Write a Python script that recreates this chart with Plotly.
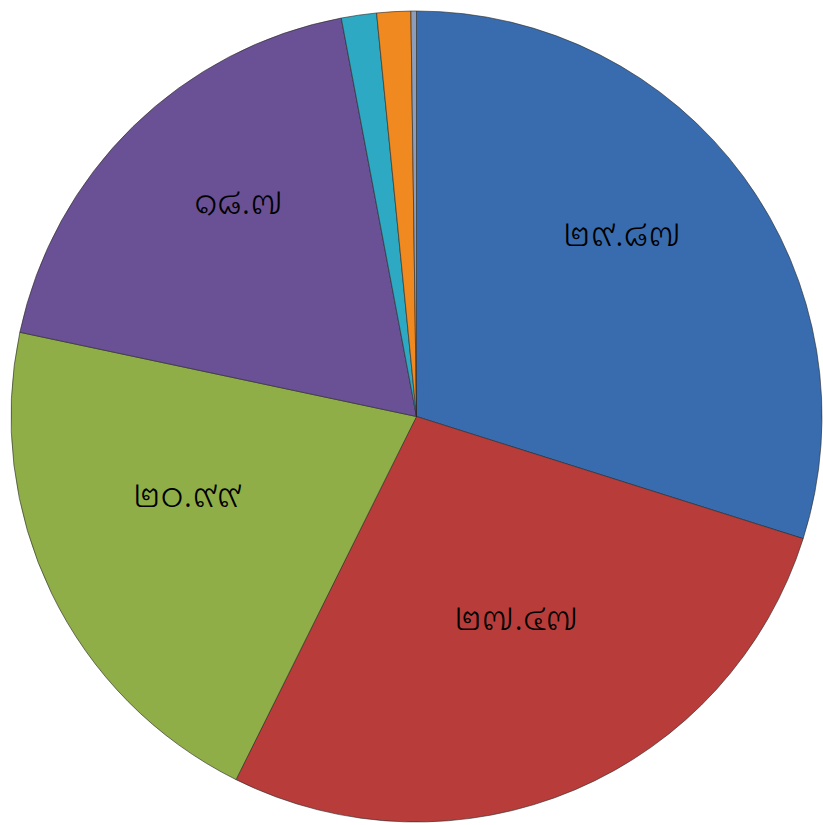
import plotly.graph_objects as go

categories = ["A", "B", "C", "D", "E", "F", "G"]
values = [29.87, 27.47, 20.99, 18.7, 1.4, 1.35, 0.22]
labels_text = ["๒๙.๘๗", "๒๗.๔๗", "๒๐.๙๙", "๑๘.๗", "", "", ""]
colors = ["#396cae", "#b83d3a", "#8fae48", "#6a5094", "#2ea9c3", "#f0891f", "#8b9dbb"]

fig = go.Figure()
fig.add_trace(go.Pie(
    labels=categories,
    values=values,
    textinfo="none",
    sort=False,
    direction="clockwise",
    rotation=0,
    marker=dict(colors=colors, line=dict(color="rgba(40,40,40,0.6)", width=1)),
    showlegend=False,
    hoverinfo="skip",
))
# transparent overlay carrying the value labels
fig.add_trace(go.Pie(
    labels=categories,
    values=values,
    text=labels_text,
    textinfo="text",
    textposition="inside",
    insidetextorientation="horizontal",
    hole=0.38,
    sort=False,
    direction="clockwise",
    rotation=0,
    domain=dict(x=[0, 1], y=[0.09, 1]),
    marker=dict(colors=["rgba(0,0,0,0)"] * len(values), line=dict(width=0)),
    textfont=dict(size=36, color="black", family="Noto Sans Thai Looped, Noto Sans Thai, Noto Sans, sans-serif", weight=300),
    showlegend=False,
    hoverinfo="skip",
))
fig.update_layout(
    width=823, height=825,
    margin=dict(l=10, r=0, t=11, b=3),
    paper_bgcolor="white",
    plot_bgcolor="white",
)
fig.write_html(
    "out.html",
    config={"displayModeBar": False},
    post_script="document.body.style.margin='0';document.body.style.overflow='hidden';",
)
